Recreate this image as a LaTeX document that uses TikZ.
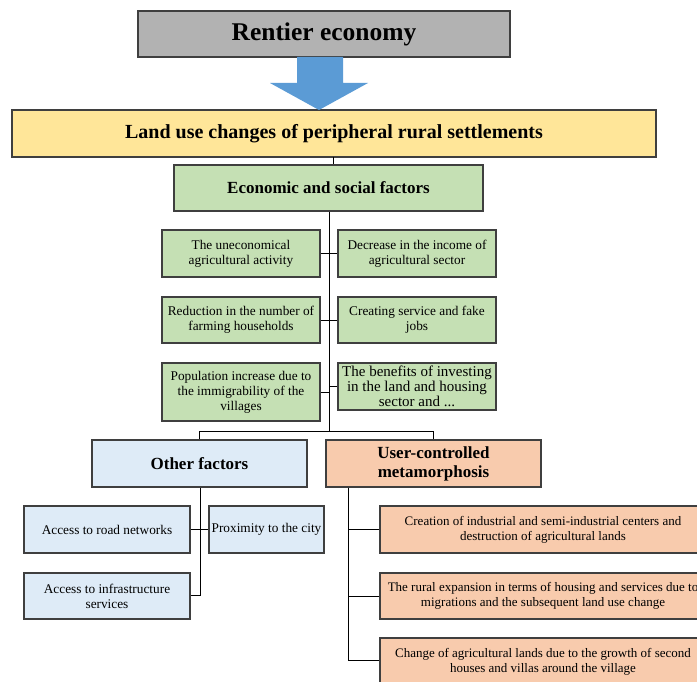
\documentclass[tikz,border=0pt]{standalone}
\usepackage{fontspec}
\setmainfont{Liberation Serif}
\definecolor{rgray}{HTML}{B2B2B2}
\definecolor{rblue}{HTML}{5B9BD5}
\definecolor{ryellow}{HTML}{FFE699}
\definecolor{rgreen}{HTML}{C5E0B4}
\definecolor{rlblue}{HTML}{DEEBF7}
\definecolor{rpeach}{HTML}{F8CBAD}
\definecolor{rborder}{HTML}{3F3F3F}
\tikzset{
  box/.style={draw=rborder, line width=1.1pt, inner sep=1pt, align=center, font=\fontsize{13.3}{15}\selectfont},
  gbox/.style={box, fill=rgreen},
  bbox/.style={box, fill=rlblue},
  obox/.style={box, fill=rpeach},
  conn/.style={draw=black, line width=0.9pt},
}
\begin{document}
\begin{tikzpicture}[x=1pt,y=-1pt]
\useasboundingbox (0,0) rectangle (697,682);
\clip (0,0) rectangle (697,682);
% top
\node[box, fill=rgray, minimum width=372pt, minimum height=46pt, font=\fontsize{25.5}{28}\selectfont\bfseries] (rent) at (324,34) {Rentier economy};
\node[box, fill=ryellow, minimum width=644pt, minimum height=47pt, font=\fontsize{20}{22}\selectfont\bfseries] (land) at (334,133.5) {Land use changes of peripheral rural settlements};
\fill[rblue] (297,57) -- (343,57) -- (343,83) -- (368,83) -- (319,110) -- (270,83) -- (297,83) -- cycle;
\node[gbox, minimum width=309pt, minimum height=46pt, font=\fontsize{17}{19}\selectfont\bfseries] (econ) at (328.5,188) {Economic and social factors};
\coordinate (lt) at (333,157);
\draw[conn] (lt) -- (lt |- econ.north);
% green boxes
\node[gbox, minimum width=158pt, minimum height=47pt] (l1) at (241,253.5) {The uneconomical\\agricultural activity};
\node[gbox, minimum width=158pt, minimum height=47pt] (r1) at (417,253.5) {Decrease in the income of\\agricultural sector};
\node[gbox, minimum width=158pt, minimum height=46pt] (l2) at (241,320) {Reduction in the number of\\farming households};
\node[gbox, minimum width=158pt, minimum height=46pt] (r2) at (417,320) {Creating service and fake\\jobs};
\node[gbox, minimum width=158pt, minimum height=58pt] (l3) at (241,392) {Population increase due to\\the immigrability of the\\villages};
\node[gbox, minimum width=158pt, minimum height=47pt, font=\fontsize{15}{15}\selectfont] (r3) at (417,386.5) {The benefits of investing\\in the land and housing\\sector and ...};
\coordinate (tr) at (329,431);
\draw[conn] (econ.south -| tr) -- (tr);
\draw[conn] (l1.east) -- (r1.west);
\draw[conn] (l2.east) -- (r2.west);
\draw[conn] (l3.east) -- (l3.east -| tr);
\draw[conn] (r3.west) -- (r3.west -| tr);
% level 2
\node[bbox, minimum width=215pt, minimum height=47pt, font=\fontsize{17}{19}\selectfont\bfseries] (oth) at (199.5,463.5) {Other factors};
\node[obox, minimum width=215pt, minimum height=47pt, font=\fontsize{17}{19}\selectfont\bfseries] (usr) at (433.5,463.5) {User-controlled\\metamorphosis};
\draw[conn] (oth.north) -- (oth.north |- tr) -- (usr.north |- tr) -- (usr.north);
% other children
\node[bbox, minimum width=166pt, minimum height=47pt] (road) at (107,529.5) {Access to road networks};
\node[bbox, minimum width=115pt, minimum height=47pt] (prox) at (266.5,529.5) {Proximity to the city};
\node[bbox, minimum width=166pt, minimum height=46pt] (infra) at (107,596) {Access to infrastructure\\services};
\coordinate (ot) at (200,595);
\draw[conn] (oth.south -| ot) -- (ot) -- (ot -| infra.east);
\draw[conn] (road.east) -- (prox.west);
% user children
\node[obox, minimum width=326pt, minimum height=47pt, font=\fontsize{13}{15}\selectfont] (u1) at (543,529.5) {Creation of industrial and semi-industrial centers and\\destruction of agricultural lands};
\node[obox, minimum width=326pt, minimum height=46pt, font=\fontsize{13}{15}\selectfont] (u2) at (543,596) {The rural expansion in terms of housing and services due to\\migrations and the subsequent land use change};
\node[obox, minimum width=326pt, minimum height=47pt, font=\fontsize{13}{15}\selectfont] (u3) at (543,661.5) {Change of agricultural lands due to the growth of second\\houses and villas around the village};
\coordinate (ut) at (348,660);
\draw[conn] (usr.south -| ut) -- (ut) -- (ut -| u3.west);
\draw[conn] (u1.west) -- (u1.west -| ut);
\draw[conn] (u2.west) -- (u2.west -| ut);
\end{tikzpicture}
\end{document}
